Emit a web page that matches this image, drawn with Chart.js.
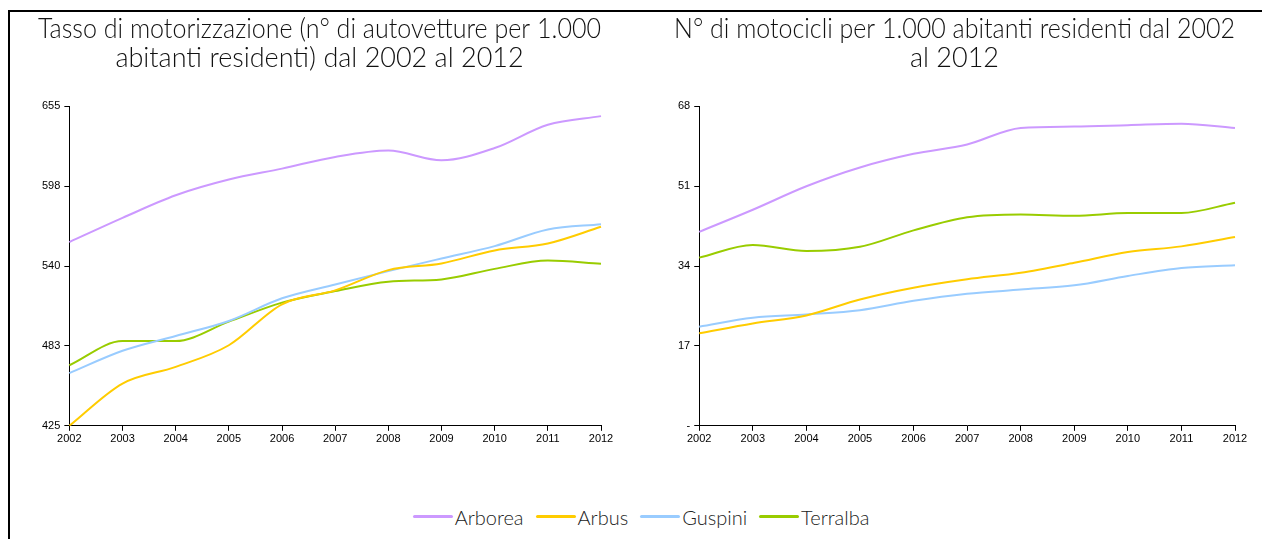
<!DOCTYPE html>
<html>
<head>
<meta charset="utf-8">
<script src="https://cdn.jsdelivr.net/npm/chart.js@4.4.1/dist/chart.umd.min.js"></script>
<style>
  html, body { margin: 0; padding: 0; background: #fff; }
  body { width: 1262px; height: 539px; position: relative; overflow: hidden; }
  #frame { position: absolute; left: 8px; top: 10px; width: 1300px; height: 600px; border-left: 2px solid #000; border-top: 2px solid #000; }
  .wrap { position: absolute; }
  #w1 { left: 10px; top: 12px; width: 630px; height: 440px; }
  #w2 { left: 640px; top: 12px; width: 622px; height: 440px; }
  #legend { position: absolute; left: 0; top: 504px; width: 1282px; text-align: center; font-family: "Lato", "DejaVu Sans", sans-serif; font-weight: 300; font-size: 20px; color: #222; line-height: 26px; }
  .item { display: inline-flex; align-items: center; margin: 0 6px; }
  .swatch { display: inline-block; width: 40px; height: 3px; border-radius: 2px; margin-right: 2px; }
</style>
</head>
<body>
<div id="frame"></div>
<div class="wrap" id="w1"><canvas id="c1"></canvas></div>
<div class="wrap" id="w2"><canvas id="c2"></canvas></div>
<div id="legend"></div>
<script>
const years = ["2002","2003","2004","2005","2006","2007","2008","2009","2010","2011","2012"];
const seriesNames = ["Arborea", "Arbus", "Guspini", "Terralba"];
const seriesColors = ["#CC99FF", "#FFCC00", "#99CCFF", "#99CC00"];

const titleCars = ["Tasso di motorizzazione (n° di autovetture per 1.000", "abitanti residenti) dal 2002 al 2012"];
const titleMoto = ["N° di motocicli per 1.000 abitanti residenti dal 2002", "al 2012"];

// Autovetture per 1.000 abitanti
const carsArborea  = [557.3, 574.7, 591.0, 602.3, 610.2, 618.6, 623.2, 616.2, 625.0, 641.8, 648.0];
const carsArbus    = [425.0, 455.4, 467.4, 483.0, 512.5, 522.5, 537.1, 541.9, 551.3, 556.3, 568.3];
const carsGuspini  = [462.9, 479.0, 489.7, 500.5, 516.8, 526.8, 536.4, 545.5, 554.4, 566.4, 570.2];
const carsTerralba = [468.6, 486.0, 486.0, 500.0, 513.7, 522.0, 528.8, 530.4, 538.0, 544.0, 541.7];

// Motocicli per 1.000 abitanti
const motoArborea  = [41.3, 46.0, 51.0, 55.0, 57.9, 59.9, 63.4, 63.7, 64.0, 64.3, 63.4];
const motoArbus    = [19.7, 21.8, 23.5, 26.9, 29.4, 31.2, 32.6, 34.7, 37.0, 38.2, 40.2];
const motoGuspini  = [21.1, 23.0, 23.7, 24.6, 26.6, 28.1, 29.0, 29.9, 31.9, 33.6, 34.2];
const motoTerralba = [35.8, 38.5, 37.2, 38.1, 41.6, 44.4, 45.0, 44.7, 45.3, 45.3, 47.5];

const carsAxis = { min: 425, max: 655, step: 57.5 };
const motoAxis = { min: 0, max: 68, step: 17 };

const TITLE_FONT = '"Lato", "DejaVu Sans", sans-serif';
const TICK_FONT = '"Liberation Sans", Arial, sans-serif';

function makeChart(id, title, seriesData, axis, zeroLabel, pad) {
  const datasets = seriesData.map((d, i) => ({
    label: seriesNames[i],
    data: d,
    borderColor: seriesColors[i],
    backgroundColor: seriesColors[i],
    borderWidth: 2,
    pointRadius: 0,
    tension: 0.4,
    cubicInterpolationMode: 'monotone',
    fill: false
  }));
  return new Chart(document.getElementById(id), {
    type: 'line',
    data: { labels: years, datasets },
    options: {
      responsive: true,
      maintainAspectRatio: false,
      animation: false,
      layout: { padding: pad },
      plugins: {
        legend: { display: false },
        tooltip: { enabled: false },
        title: {
          display: true,
          text: title,
          color: '#111',
          font: { family: TITLE_FONT, size: 27, weight: 300, lineHeight: 1.1 },
          padding: { top: 0, bottom: 33 }
        }
      },
      scales: {
        x: {
          offset: false,
          border: { display: true, color: '#000', width: 1 },
          grid: { display: true, drawOnChartArea: false, drawTicks: true, tickLength: 5, color: '#000' },
          ticks: { color: '#000', font: { family: TICK_FONT, size: 11 }, maxRotation: 0, autoSkip: false, padding: 2 }
        },
        y: {
          min: axis.min,
          max: axis.max,
          border: { display: true, color: '#000', width: 1 },
          grid: { display: true, drawOnChartArea: false, drawTicks: true, tickLength: 5, color: '#000' },
          ticks: {
            stepSize: axis.step,
            color: '#000',
            font: { family: TICK_FONT, size: 11 },
            padding: 4,
            callback: (v) => (v === 0 && zeroLabel) ? zeroLabel : String(Math.round(v))
          },
          afterBuildTicks: (scale) => {
            const t = [];
            for (let v = axis.min; v <= axis.max + 1e-9; v += axis.step) t.push({ value: v });
            scale.ticks = t;
          }
        }
      }
    }
  });
}

makeChart('c1', titleCars, [carsArborea, carsArbus, carsGuspini, carsTerralba], carsAxis, null, { left: 28, right: 39, top: 2, bottom: 4 });
makeChart('c2', titleMoto, [motoArborea, motoArbus, motoGuspini, motoTerralba], motoAxis, '-', { left: 34, right: 27, top: 2, bottom: 4 });

const legend = document.getElementById('legend');
legend.style.top = '497px';
seriesNames.forEach((n, i) => {
  const it = document.createElement('span');
  it.className = 'item';
  const sw = document.createElement('span');
  sw.className = 'swatch';
  sw.style.background = seriesColors[i];
  const tx = document.createElement('span');
  tx.textContent = n;
  it.appendChild(sw); it.appendChild(tx);
  legend.appendChild(it);
});
</script>
</body>
</html>
